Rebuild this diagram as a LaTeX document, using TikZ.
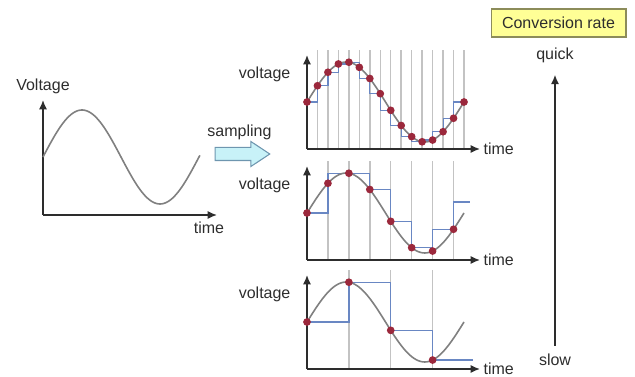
\documentclass[tikz,border=0pt]{standalone}
\usepackage{fontspec}
\setmainfont{Liberation Sans}
\usetikzlibrary{arrows.meta,shapes.arrows}

\pgfdeclarelayer{bg}
\pgfsetlayers{bg,main}

\definecolor{axisgray}{RGB}{45,45,45}
\definecolor{wavegray}{RGB}{128,128,128}
\definecolor{gridgray}{RGB}{195,195,195}
\definecolor{holdblue}{RGB}{105,135,195}
\definecolor{dotred}{RGB}{155,40,60}
\definecolor{arrowcyan}{RGB}{200,242,248}
\definecolor{arrowedge}{RGB}{110,150,175}
\definecolor{rateyellow}{RGB}{255,255,150}
\definecolor{rateedge}{RGB}{140,140,90}
\definecolor{txtgray}{RGB}{45,45,45}

\begin{document}
\begin{tikzpicture}[x=0.75pt, y=-0.75pt,
    lbl/.style={font=\fontsize{12}{14}\selectfont, text=txtgray, inner sep=1pt},
    axisline/.style={draw=axisgray, line width=1.1pt, -{Latex[length=7pt,width=6pt]}},
    wave/.style={draw=wavegray, line width=1.2pt},
    gridline/.style={draw=gridgray, line width=1.1pt},
    holdline/.style={draw=holdblue, line width=0.9pt},
    sampledot/.style={fill=dotred},
    ratebox/.style={lbl, draw=rateedge, fill=rateyellow, line width=1pt,
      minimum width=101pt, minimum height=21pt, inner sep=0pt},
    samplearrow/.style={single arrow, draw=arrowedge, fill=arrowcyan, line width=0.8pt,
      minimum height=41pt, inner xsep=0pt, inner ysep=4.5pt,
      single arrow head extend=4.5pt, single arrow tip angle=67}]
  \useasboundingbox (0,0) rectangle (635,377);

  % analog signal on the left
  \coordinate (lo) at (43,215);
  \coordinate (ltop) at (43,100);
  \coordinate (lend) at (217,215);
  \draw[axisline] (lo) -- (ltop);
  \draw[axisline] (lo) -- (lend);
  \node[lbl] (lvolt) at (43,86) {Voltage};
  \node[lbl] (ltime) at (209,228) {time};
  \draw[wave] plot[domain=0:362, samples=80] ({43+\x/360*156}, {157-47*sin(\x)});

  % sampling arrow
  \node[lbl] (samp) at (239.5,132) {sampling};
  \node[samplearrow] (sarrow) at (237.5,154) {};

  % held values (blue steps)
  \draw[holdline] (307,102) -| (317.5,85.7) -| (328,72.3) -| (338.4,64) -| (348.9,62.2)
    -| (359.3,67.4) |- (369.8,78.5) |- (380.3,93.7) |- (390.7,110.3) |- (401.2,125.5)
    |- (411.7,136.6) |- (422.1,141.8) |- (432.6,140) |- (443.1,131.7) |- (453.5,118.3)
    |- (464,102);
  \draw[holdline] (307,213) -| (327.9,173.2) -- (369.8,173.2) |- (390.7,189.5)
    |- (411.7,221.3) |- (432.6,247.6) |- (453.5,229.3) |- (470,202);
  \draw[holdline] (307,322) -| (348.9,282.2) -| (390.7,330.3) -| (432.6,360) -- (473,360);

  % three sampled signals, fine to coarse
  \foreach \cy/\dphi/\ns [count=\p] in {102/24/15, 213/48/7, 322/96/3} {
    \begin{scope}[shift={(307,\cy)}]
      \begin{pgfonlayer}{bg}
        \foreach \k in {1,...,\ns}
          \draw[gridline] ({\k*\dphi/360*157},47) -- ++(0,-99);
      \end{pgfonlayer}
      \coordinate (o\p) at (0,47);
      \coordinate (top\p) at (0,-47);
      \coordinate (end\p) at (173,47);
      \draw[axisline] (o\p) -- (top\p);
      \draw[axisline] (o\p) -- (end\p);
      \node[lbl, anchor=east] (volt\p) at (-15,-28) {voltage};
      \node[lbl, anchor=west, xshift=1.5pt] (time\p) at (end\p) {time};
      \draw[wave] plot[domain=0:360, samples=73] ({\x/360*157}, {-40*sin(\x)});
      \foreach \k in {0,...,\ns}
        \fill[sampledot] ({\k*\dphi/360*157}, {-40*sin(\k*\dphi)}) circle[radius=2.9pt];
    \end{scope}
  }

  % conversion rate scale
  \node[ratebox] (rate) at (558.5,23) {Conversion rate};
  \node[lbl] (quick) at (555,55) {quick};
  \node[lbl] (slow) at (555,360) {slow};
  \draw[axisline, shorten <=5pt, shorten >=8pt] (slow) -- (quick);
\end{tikzpicture}
\end{document}
